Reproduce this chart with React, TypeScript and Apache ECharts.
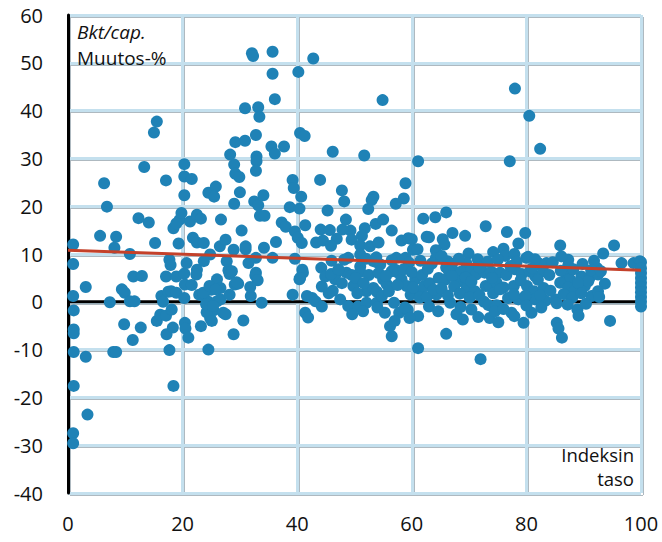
import React, { useEffect, useRef } from "react";
import * as echarts from "echarts";

const xTicks = [0, 20, 40, 60, 80, 100];
const yTicks = [-40, -30, -20, -10, 0, 10, 20, 30, 40, 50, 60];

// Scatter points: [index level, GDP/cap change %]
const pts0to10: number[][] = [
  [0.9, 12.0], [0.9, 7.9], [0.9, 1.2], [1.0, -1.8], [1.0, -5.8], [1.0, -6.6], [1.0, -10.5], [1.0, -17.6],
  [0.9, -27.5], [0.9, -29.6], [3.1, 3.1], [3.1, -11.5], [3.4, -23.6], [5.6, 13.8], [6.3, 24.8], [6.8, 19.9],
  [7.3, -0.1], [7.9, -10.5], [8.4, -10.5], [8.1, 11.3], [8.4, 13.6], [9.4, 2.6], [9.9, 1.9], [9.8, -4.7],
];
const pts10to20: number[][] = [
  [10.8, 10.0], [10.8, 0.1], [11.6, 0.1], [11.3, -8.0], [11.4, 5.3], [12.3, 17.5], [12.9, 5.4], [12.7, -5.4],
  [13.3, 28.2], [14.1, 16.6], [15.0, 35.4], [15.5, 37.7], [15.2, 12.3], [15.5, -4.0], [16.3, 1.2], [16.6, 0.0],
  [16.1, -2.7], [17.1, 25.4], [17.1, 5.3], [17.1, -2.9], [17.2, -6.8], [17.5, 2.1], [17.7, 8.8], [17.9, 7.7],
  [17.7, -10.1], [18.0, 2.2], [18.1, -1.6], [18.3, -5.4], [18.4, 15.4], [18.4, -17.6], [18.9, 5.3], [18.9, 1.9],
  [19.3, 12.2], [19.5, 17.2], [19.8, 18.6], [18.9, 16.4],
];
const pts20to30: number[][] = [
  [20.3, 28.8], [20.3, 26.2], [21.6, 25.7], [20.3, 22.3], [21.3, 16.8], [22.5, 18.2], [23.2, 17.4], [21.8, 13.4],
  [22.5, 12.4], [23.7, 12.3], [24.5, 22.8], [25.8, 24.1], [25.5, 22.0], [26.7, 17.2], [26.5, 11.6], [27.5, 13.0],
  [28.3, 30.8], [29.0, 28.7], [29.2, 33.4], [29.2, 26.8], [29.9, 26.1], [29.0, 20.5], [24.8, 9.9], [23.7, 8.5],
  [27.7, 8.5], [28.0, 6.6], [28.9, 10.9], [20.3, 5.9], [20.7, 8.1], [22.5, 6.7], [20.3, 0.8], [20.4, -4.4],
  [20.5, -5.6], [21.0, -7.5], [20.4, 3.6], [21.6, 3.5], [22.4, 5.7], [22.9, 1.5], [23.2, -5.1], [23.7, 1.2],
  [24.5, -10.0], [24.5, 0.0], [24.5, -1.6], [24.8, -3.4], [25.0, 2.5], [26.0, 4.7], [26.0, 0.1], [25.4, -1.8],
  [26.6, 2.9], [26.6, 0.5], [27.1, -2.3], [27.5, -2.6], [28.2, 1.5], [28.9, -6.8], [29.1, 3.6], [29.7, 3.8],
  [28.2, 5.8], [24.2, -2.2], [23.6, 1.9], [24.7, 3.3], [25.8, 2.6], [24.1, -0.5], [25.3, -0.9], [25.1, -4.0],
  [28.6, 6.4], [29.4, 4.1],
];
const pts30to40: number[][] = [
  [30.0, 22.9], [30.9, 33.7], [30.9, 40.5], [32.1, 52.0], [32.3, 51.4], [35.7, 52.3], [35.7, 47.7], [36.1, 42.4],
  [33.2, 40.7], [33.4, 38.7], [32.8, 34.9], [32.9, 30.4], [32.9, 29.4], [32.8, 27.4], [32.5, 21.0], [33.2, 20.2],
  [34.1, 22.3], [33.5, 18.0], [34.3, 18.0], [35.5, 32.5], [36.1, 31.0], [37.7, 32.5], [39.2, 25.5], [39.4, 23.8],
  [38.7, 19.8], [30.3, 14.9], [31.0, 11.6], [31.0, 11.0], [34.2, 11.3], [36.3, 12.5], [37.3, 16.6], [38.0, 15.7],
  [39.6, 14.7], [32.8, 9.2], [32.8, 6.1], [35.7, 9.2], [31.5, 8.1], [30.6, -3.9], [31.9, 1.2], [32.7, 5.5],
  [33.1, 4.5], [33.8, -0.2], [39.2, 1.5], [39.6, 9.0], [31.8, 3.1],
];
const pts40to50: number[][] = [
  [40.2, 48.1], [42.8, 50.9], [40.5, 35.3], [41.3, 34.7], [40.7, 22.0], [40.4, 19.5], [44.0, 25.5], [45.3, 19.1],
  [46.2, 31.4], [40.1, 13.4], [40.8, 12.3], [41.4, 16.0], [43.3, 12.4], [44.1, 15.1], [44.5, 12.8], [40.9, 6.7],
  [44.2, 7.1], [40.4, 4.7], [41.0, 6.1], [41.7, 1.2], [42.6, 0.8], [43.2, 0.1], [44.3, -1.0], [41.4, -2.3],
  [41.9, -3.3], [44.3, 3.2], [44.9, 5.3], [45.5, 1.8], [47.8, 23.3], [48.2, 21.0], [48.5, 17.2], [49.3, 14.9],
  [49.5, 13.0], [46.9, 13.2], [45.7, 15.0], [45.9, 11.7], [48.9, 9.2], [46.9, 6.1], [46.6, 4.7], [47.8, 3.9],
  [48.6, 6.1], [49.5, 5.6], [49.8, 3.3], [47.5, 0.5], [48.9, -0.9], [47.9, 15.1], [40.5, 5.0],
];
const pts50to60: number[][] = [
  [54.9, 42.2], [51.7, 30.6], [58.9, 24.8], [58.6, 21.6], [57.2, 20.5], [53.3, 22.0], [53.0, 21.3], [52.4, 19.4],
  [51.8, 15.4], [51.3, 13.8], [51.0, 11.8], [52.7, 11.6], [54.2, 12.4], [53.7, 16.3], [55.0, 17.2], [56.5, 14.9],
  [58.2, 12.8], [57.3, 9.2], [54.5, 7.8], [54.0, 8.2], [51.0, 7.4], [57.1, 6.7], [51.0, 9.9], [53.3, 8.5],
  [58.9, 9.2], [51.0, 6.3], [52.1, 2.2], [53.3, 2.9], [53.9, 2.1], [55.0, 4.7], [55.6, 3.7], [56.5, 6.4],
  [57.6, 6.1], [58.2, 4.7], [59.1, 3.3], [59.4, 13.3], [56.2, -5.1], [56.5, -7.2], [55.3, -2.3], [57.8, -2.3],
  [59.3, -1.7], [50.6, -1.0], [52.1, -0.2], [53.9, -0.2], [56.9, -0.2], [58.8, -1.2], [59.8, 1.5],
];
const pts60to70: number[][] = [
  [61.1, 29.4], [60.0, 13.1], [62.0, 17.4], [64.1, 17.7], [66.0, 18.7], [62.6, 13.6], [63.0, 13.5], [65.4, 13.1],
  [65.7, 12.0], [67.1, 14.4], [69.3, 13.8], [60.2, 10.9], [61.0, 11.0], [64.2, 10.8], [64.2, 9.1], [69.9, 10.1],
  [66.7, 8.1], [69.5, 8.1], [66.2, 8.5], [67.0, 7.8], [67.8, 6.1], [68.6, 6.3], [60.6, 4.7], [61.4, 2.2],
  [62.2, 3.3], [63.1, 3.9], [64.3, 1.5], [66.0, 7.2], [66.5, 6.3], [68.2, 4.3], [69.6, 2.9], [61.1, -3.0],
  [61.1, -9.7], [66.0, -6.7], [68.9, -3.7], [68.5, -1.1], [66.7, -0.2], [61.4, 0.9],
];
const pts70to80: number[][] = [
  [72.9, 15.8], [76.6, 14.6], [79.8, 14.4], [78.6, 12.2], [78.0, 44.6], [77.1, 29.4], [74.2, 10.4], [76.0, 11.1],
  [76.3, 9.6], [77.9, 10.0], [70.4, 6.7], [71.2, 5.7], [72.7, 6.1], [71.0, 2.2], [72.9, 3.3], [73.9, 6.3],
  [75.4, 6.1], [78.0, 6.8], [79.2, 5.8], [73.6, 3.3], [74.8, 4.0], [76.0, 3.0], [77.8, 3.3], [76.8, 0.8],
  [78.6, 0.5], [72.6, 0.0], [73.4, -0.7], [74.8, -0.7], [72.0, -12.0], [73.6, -3.4], [75.1, -4.3], [74.5, -2.0],
  [77.4, -2.3], [77.9, -3.0], [79.5, -4.4], [80.0, 9.2],
];
const pts80to90: number[][] = [
  [80.5, 38.9], [82.4, 32.0], [85.9, 11.8], [87.3, 8.8], [82.1, 8.1], [83.5, 8.1], [80.3, 9.4], [82.4, 7.8],
  [87.3, 7.6], [80.6, 6.4], [81.5, 5.4], [82.9, 6.4], [87.0, 5.3], [87.6, 4.7], [89.6, 5.3], [80.1, 3.3],
  [81.3, 2.2], [83.0, 2.9], [85.9, 4.0], [87.3, 3.0], [88.5, 2.4], [81.5, 0.5], [83.3, 0.2], [85.1, 0.5],
  [85.3, -0.3], [80.9, -2.3], [85.3, -4.4], [85.6, -5.6], [86.2, -7.5], [88.9, -1.6], [89.1, -2.9],
];
const pts90to100: number[][] = [
  [95.3, 11.8], [93.4, 10.1], [96.6, 8.1], [98.7, 8.1], [99.8, 8.5], [92.3, 7.1], [91.0, 5.0], [92.5, 5.7],
  [93.7, 3.8], [90.2, 3.3], [90.8, 4.3], [91.4, 1.2], [92.5, 2.2], [92.7, 1.0], [94.6, -4.0], [100, 8.3],
  [100, 7.0], [100, 6.0], [100, 5.0], [100, 4.0], [100, 3.0], [100, 2.0], [100, 1.0], [100, 0.0], [100, -1.0],
];
// dense cluster just above zero, index 45-95
const ptsBandHigh: number[][] = [
  [46.0, 8.6], [48.2, 8.8], [52.0, 9.0], [53.8, 9.3], [56.5, 8.7], [59.5, 8.2], [61.5, 8.6], [63.5, 8.0],
  [65.2, 9.6], [68.2, 9.0], [71.5, 8.9], [73.2, 8.4], [75.0, 8.8], [78.3, 8.4], [81.5, 8.9], [84.6, 8.3],
  [86.1, 9.5], [89.8, 7.9], [91.8, 8.6],
];
const ptsBandMid: number[][] = [
  [45.9, 5.8], [47.2, 6.8], [50.2, 5.0], [52.5, 5.6], [54.2, 6.0], [55.5, 5.4], [58.6, 6.8], [60.0, 6.2],
  [61.8, 5.6], [62.8, 6.9], [64.7, 5.0], [65.8, 4.6], [67.0, 5.4], [69.4, 5.1], [70.4, 4.2], [71.8, 7.2],
  [74.0, 5.0], [76.5, 5.6], [77.2, 7.5], [79.0, 4.5], [81.0, 7.0], [82.0, 4.6], [84.0, 5.6], [86.0, 6.5],
  [88.2, 6.8], [89.0, 4.0], [91.3, 6.6], [93.0, 6.4],
];
const ptsBandLow: number[][] = [
  [46.2, 2.3], [50.5, 1.8], [51.6, 3.9], [54.8, 1.2], [56.0, 2.2], [57.5, 3.5], [60.2, 3.0], [62.6, 1.0],
  [63.8, 2.5], [65.2, 2.8], [66.3, 1.3], [67.4, 3.2], [68.4, 1.7], [70.1, 0.9], [71.8, 1.4], [74.2, 1.8],
  [75.4, 2.6], [77.8, 1.6], [79.8, 1.2], [82.4, 1.4], [84.2, 2.3], [86.5, 1.6], [88.0, 0.9], [89.6, 1.8],
];
const ptsBandNeg: number[][] = [
  [49.6, -2.6], [51.5, -2.0], [54.0, -1.2], [57.0, -4.0], [59.6, -3.4], [63.0, -1.0], [64.6, -2.0], [67.8, -2.6],
  [70.4, -1.6], [71.6, -3.2], [76.0, -1.5], [80.0, -0.8], [82.6, -1.2], [87.2, -0.6], [90.4, -0.4],
];

const trendX = [0, 100];
const trendY = [10.8, 6.6];

const allPoints = [
  ...pts0to10, ...pts10to20, ...pts20to30, ...pts30to40, ...pts40to50,
  ...pts50to60, ...pts60to70, ...pts70to80, ...pts80to90, ...pts90to100,
  ...ptsBandHigh, ...ptsBandMid, ...ptsBandLow, ...ptsBandNeg,
];

const FONT = "'Open Sans', 'Noto Sans', sans-serif";

export default function App() {
  const ref = useRef<HTMLDivElement>(null);
  useEffect(() => {
    if (!ref.current) return;
    const chart = echarts.init(ref.current, undefined, { renderer: "svg" });
    const gridColor = "#c4e0ee";
    const edgeColor = "#aeb9c0";
    const xMin = xTicks[0];
    const xMax = xTicks[xTicks.length - 1];
    const yMin = yTicks[0];
    const yMax = yTicks[yTicks.length - 1];
    chart.setOption({
      animation: false,
      backgroundColor: "#ffffff",
      grid: [
        { left: 68, right: 21, top: 15, bottom: 49, containLabel: false },
        { left: 70, right: 19, top: 17, bottom: 47, containLabel: false, z: 0 },
      ],
      xAxis: [
        {
          type: "value", gridIndex: 0, min: xMin, max: xMax, interval: 20,
          axisLine: { show: false, onZero: false },
          axisTick: { show: false },
          axisLabel: { fontFamily: FONT, fontSize: 20, color: "#111", margin: 20 },
          splitLine: { show: true, lineStyle: { color: gridColor, width: 3 } },
          z: 1,
        },
        {
          type: "value", gridIndex: 1, min: xMin, max: xMax, interval: 20,
          axisLine: { show: false, onZero: false },
          axisTick: { show: false },
          axisLabel: { show: false },
          splitLine: { show: true, lineStyle: { color: edgeColor, width: 1 } },
          z: 0,
        },
      ],
      yAxis: [
        {
          type: "value", gridIndex: 0, min: yMin, max: yMax, interval: 10,
          axisLine: { show: true, onZero: false, lineStyle: { color: "#000", width: 3 } },
          axisTick: { show: false },
          axisLabel: { fontFamily: FONT, fontSize: 20, color: "#111", margin: 25 },
          splitLine: { show: true, lineStyle: { color: gridColor, width: 3 } },
          z: 1,
        },
        {
          type: "value", gridIndex: 1, min: yMin, max: yMax, interval: 10,
          axisLine: { show: false, onZero: false },
          axisTick: { show: false },
          axisLabel: { show: false },
          splitLine: { show: true, lineStyle: { color: edgeColor, width: 1 } },
          z: 0,
        },
      ],
      series: [
        {
          type: "line",
          xAxisIndex: 0, yAxisIndex: 0,
          data: [[xMin, 0], [xMax, 0]],
          symbol: "none",
          lineStyle: { color: "#000", width: 3 },
          silent: true,
          z: 2,
        },
        {
          type: "scatter",
          xAxisIndex: 0, yAxisIndex: 0,
          data: allPoints,
          symbol: "circle",
          symbolSize: 12,
          itemStyle: { color: "#1f82b6", opacity: 1 },
          z: 3,
        },
        {
          type: "line",
          xAxisIndex: 0, yAxisIndex: 0,
          data: trendX.map((x, i) => [x, trendY[i]]),
          symbol: "none",
          lineStyle: { color: "#c4412a", width: 3 },
          silent: true,
          z: 4,
        },
      ],
      graphic: [
        { type: "text", z: 100, left: 77, top: 22, style: { text: "Bkt/cap.", font: `italic 19px ${FONT}`, fill: "#111" } },
        { type: "text", z: 100, left: 77, top: 48, style: { text: "Muutos-%", font: `19px ${FONT}`, fill: "#111" } },
        { type: "text", z: 100, right: 28, top: 445, style: { text: "Indeksin", font: `18.5px ${FONT}`, fill: "#111" } },
        { type: "text", z: 100, right: 28, top: 469, style: { text: "taso", font: `18.5px ${FONT}`, fill: "#111" } },
      ],
    });
    return () => chart.dispose();
  }, []);
  return (
    <div
      ref={ref}
      style={{ position: "absolute", left: 0, top: 0, width: 662, height: 542, background: "#fff" }}
    />
  );
}
